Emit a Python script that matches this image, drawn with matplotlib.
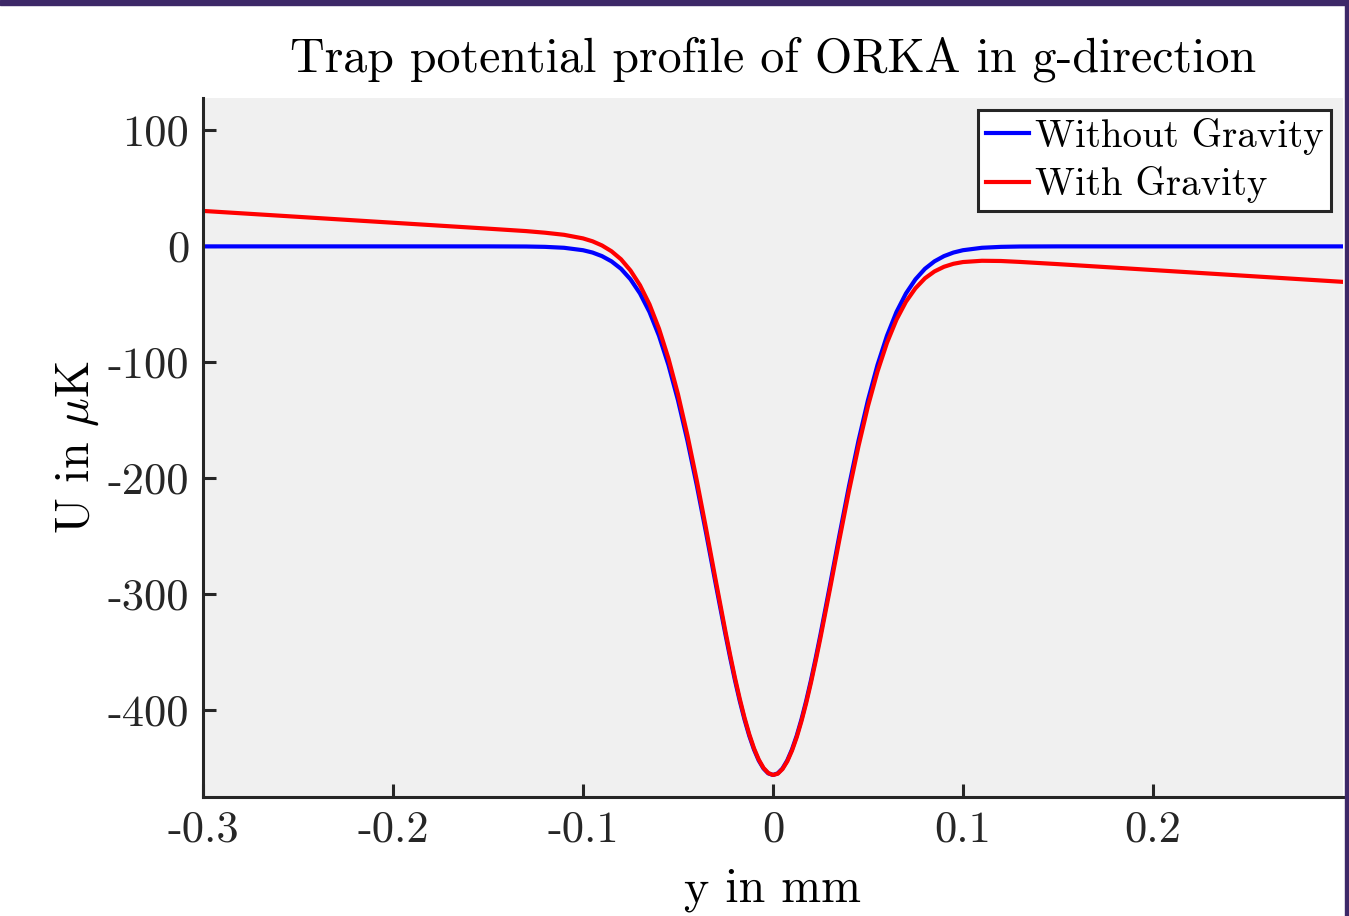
import numpy as np
import matplotlib
matplotlib.use("Agg")
import matplotlib.pyplot as plt
from matplotlib.patches import Rectangle


# position along g-direction in mm
y_mm = [
    -0.30, -0.25, -0.20, -0.15, -0.13, -0.12, -0.11, -0.10,
    -0.095, -0.09, -0.085, -0.08, -0.075, -0.07, -0.065, -0.06,
    -0.055, -0.05, -0.045, -0.04, -0.035, -0.03, -0.025, -0.0225,
    -0.02, -0.0175, -0.015, -0.0125, -0.01, -0.0075, -0.005, -0.0025,
    0.0,
    0.0025, 0.005, 0.0075, 0.01, 0.0125, 0.015, 0.0175, 0.02,
    0.0225, 0.025, 0.03, 0.035, 0.04, 0.045, 0.05, 0.055,
    0.06, 0.065, 0.07, 0.075, 0.08, 0.085, 0.09, 0.095,
    0.10, 0.11, 0.12, 0.13, 0.15, 0.20, 0.25, 0.30,
]

# trap potential in microkelvin
u_no_gravity = [
    0.0, 0.0, 0.0, 0.0, -0.1, -0.4, -1.2, -3.3,
    -5.3, -8.4, -12.9, -19.3, -28.4, -40.6, -56.6, -77.1,
    -102.4, -132.7, -167.8, -206.9, -249.0, -292.4, -334.9, -355.1,
    -374.3, -392.0, -408.0, -422.1, -434.0, -443.5, -450.4, -454.6,
    -456.0,
    -454.6, -450.4, -443.5, -434.0, -422.1, -408.0, -392.0, -374.3,
    -355.1, -334.9, -292.4, -249.0, -206.9, -167.8, -132.7, -102.4,
    -77.1, -56.6, -40.6, -28.4, -19.3, -12.9, -8.4, -5.3,
    -3.3, -1.2, -0.4, -0.1, 0.0, 0.0, 0.0, 0.0,
]

u_gravity = [
    30.6, 25.5, 20.4, 15.3, 13.2, 11.8, 10.0, 6.9,
    4.4, 0.8, -4.2, -11.1, -20.8, -33.5, -50.0, -71.0,
    -96.8, -127.6, -163.2, -202.8, -245.4, -289.3, -332.4, -352.8,
    -372.3, -390.2, -406.5, -420.8, -433.0, -442.7, -449.9, -454.3,
    -456.0,
    -454.9, -450.9, -444.3, -435.0, -423.4, -409.5, -393.8, -376.3,
    -357.4, -337.5, -295.5, -252.6, -211.0, -172.4, -137.8, -108.0,
    -83.2, -63.2, -47.7, -36.1, -27.5, -21.6, -17.6, -15.0,
    -13.5, -12.4, -12.6, -13.4, -15.3, -20.4, -25.5, -30.6,
]

x_ticks = [-0.3, -0.2, -0.1, 0.0, 0.1, 0.2]
x_tick_labels = ["-0.3", "-0.2", "-0.1", "0", "0.1", "0.2"]
y_ticks = [-400, -300, -200, -100, 0, 100]
y_tick_labels = ["-400", "-300", "-200", "-100", "0", "100"]


plt.rcParams["font.family"] = ["cmr10", "DejaVu Serif"]
plt.rcParams["mathtext.fontset"] = "cm"
plt.rcParams["axes.unicode_minus"] = False

fig = plt.figure(
    figsize=(13.49, 9.16),
    dpi=100
)

ax = fig.add_axes(
    [0.1505, 0.1299, 0.845, 0.7631]
)
ax.set_facecolor("#f0f0f0")

ax.plot(
    y_mm,
    u_no_gravity,
    color="#0000ff",
    linewidth=3.0,
    solid_joinstyle="round",
    label="Without Gravity"
)

ax.plot(
    y_mm,
    u_gravity,
    color="#ff0000",
    linewidth=3.0,
    solid_joinstyle="round",
    label="With Gravity"
)

ax.set_xlim(-0.3, 0.3)
ax.set_ylim(-475, 128)

ax.set_xticks(x_ticks)
ax.set_xticklabels(x_tick_labels)
ax.set_yticks(y_ticks)
ax.set_yticklabels(y_tick_labels)

for side in ["top", "right"]:
    ax.spines[side].set_visible(False)

for side in ["left", "bottom"]:
    ax.spines[side].set_linewidth(2.2)
    ax.spines[side].set_color("#262626")

ax.tick_params(
    direction="in",
    length=9.5,
    width=2.2,
    color="#262626",
    labelsize=32,
    labelcolor="#262626",
    pad=10
)

ax.set_title(
    "Trap potential profile of ORKA in g-direction",
    fontsize=34.5,
    pad=19
)

ax.set_xlabel(
    "y in mm",
    fontsize=34.5,
    labelpad=12
)

ax.set_ylabel(
    r"U in $\mu$K",
    fontsize=34.5,
    labelpad=5
)

leg = ax.legend(
    loc="upper right",
    bbox_to_anchor=(0.9895, 0.983),
    fontsize=28,
    frameon=True,
    fancybox=False,
    framealpha=1,
    edgecolor="#262626",
    handlelength=1.1,
    handletextpad=0.15,
    labelspacing=0.3,
    borderpad=0.2,
    borderaxespad=0.0
)
leg.get_frame().set_linewidth(2.2)

# purple frame strips at top and right of the screenshot
fig.patches.append(
    Rectangle(
        (0, 0.9945), 1, 0.0055,
        transform=fig.transFigure,
        color="#3d2868",
        zorder=10
    )
)
fig.patches.append(
    Rectangle(
        (0.9968, 0), 0.0032, 1,
        transform=fig.transFigure,
        color="#3d2868",
        zorder=10
    )
)

fig.savefig(
    "out.png",
    dpi=100
)
plt.close(fig)
